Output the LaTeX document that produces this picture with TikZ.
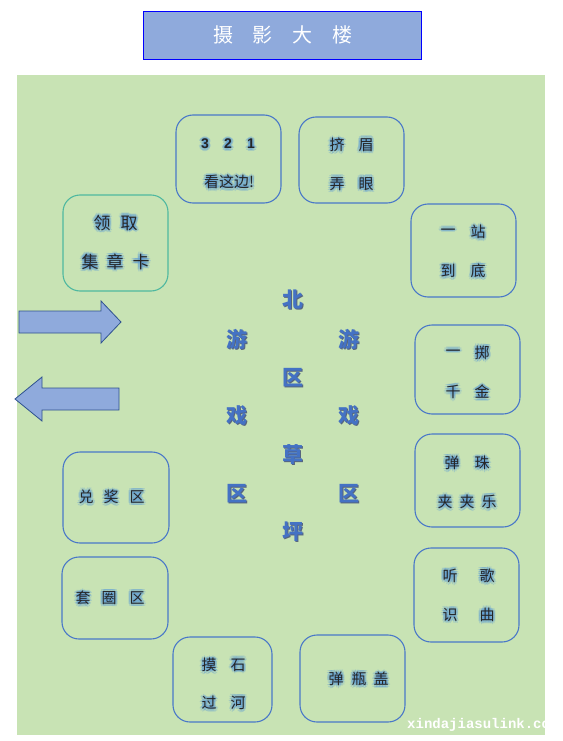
\documentclass[tikz,border=0pt]{standalone}
\usepackage{fontspec}
\newfontfamily\cjk{Noto Sans CJK SC}
\newfontfamily\wmfont{Liberation Mono}
\newfontfamily\digitfont{Liberation Sans}
\definecolor{bggreen}{HTML}{C8E3B4}
\definecolor{titlefill}{HTML}{8FAADC}
\definecolor{boxline}{HTML}{4A78C8}
\definecolor{glowblue}{HTML}{5A9AD8}
\definecolor{centerblue}{HTML}{4472C4}
\definecolor{shadowc}{HTML}{56657F}
\definecolor{arrowline}{HTML}{2F528F}
\definecolor{tealline}{HTML}{4FB8A0}
\tikzset{
  areabox/.style={draw=boxline, line width=1.1pt, rounded corners=17pt, inner sep=0pt},
  glowc/.style={text=glowblue, opacity=0.3, font=\cjk\fontsize{15}{15}\selectfont, inner sep=0pt},
  mainc/.style={text=black!85, font=\cjk\fontsize{15}{15}\selectfont, inner sep=0pt},
  cshadow/.style={text=shadowc, font=\cjk\bfseries\fontsize{21}{21}\selectfont, inner sep=0pt},
  cmain/.style={text=centerblue, font=\cjk\bfseries\fontsize{21}{21}\selectfont, inner sep=0pt},
  bigarrow/.style={fill=titlefill, draw=arrowline, line width=0.8pt, line join=miter},
}
\newcommand\gch[4][]{%
  \foreach \dx/\dy in {-2.4/0,2.4/0,0/-2.4,0/2.4,-1.7/-1.7,1.7/1.7,-1.7/1.7,1.7/-1.7,-1.1/0,1.1/0,0/1.1,0/-1.1}{%
    \node[glowc,#1, xshift=\dx pt, yshift=\dy pt] at (#2,#3) {#4};}
  \node[mainc,#1] at (#2,#3) {#4};}
\newcommand\cch[3]{%
  \node[cshadow, xshift=0.9pt, yshift=-0.9pt] at (#1,#2) {#3};
  \node[cmain] at (#1,#2) {#3};}
\begin{document}
\begin{tikzpicture}[x=1pt,y=-1pt]
\clip (0,0) rectangle (562,741);
\useasboundingbox (0,0) rectangle (562,741);
\fill[white] (0,0) rectangle (562,741);
% title
\node[draw=blue, fill=titlefill, line width=0.9pt, minimum width=278pt, minimum height=48pt, inner sep=0pt] (title) at (282,35) {};
\foreach \x/\c in {223/摄,262/影,302/大,342/楼}{
  \node[text=white, font=\cjk\fontsize{20}{20}\selectfont, inner sep=0pt] at (\x,35) {\c};}
% green area
\fill[bggreen] (17,75) rectangle (545,735);
% boxes
\node[areabox, minimum width=105pt, minimum height=88pt] (b321) at (228.5,159) {};
\node[areabox, minimum width=105pt, minimum height=86pt] (bjm) at (351.5,160) {};
\node[areabox, draw=tealline, minimum width=105pt, minimum height=96pt] (blq) at (115.5,243) {};
\node[areabox, minimum width=105pt, minimum height=93pt] (byz) at (463.5,250.5) {};
\node[areabox, minimum width=105pt, minimum height=89pt] (byzh) at (467.5,369.5) {};
\node[areabox, minimum width=105pt, minimum height=93pt] (bdz) at (467.5,480.5) {};
\node[areabox, minimum width=105pt, minimum height=94pt] (btg) at (466.5,595) {};
\node[areabox, minimum width=106pt, minimum height=91pt] (bdj) at (116,497.5) {};
\node[areabox, minimum width=106pt, minimum height=82pt] (btq) at (115,598) {};
\node[areabox, minimum width=99pt, minimum height=85pt] (bms) at (222.5,679.5) {};
\node[areabox, minimum width=105pt, minimum height=87pt] (bpg) at (352.5,678.5) {};
% box texts
\gch[font=\digitfont\bfseries\fontsize{14}{14}\selectfont]{205}{144}{3}
\gch[font=\digitfont\bfseries\fontsize{14}{14}\selectfont]{228}{144}{2}
\gch[font=\digitfont\bfseries\fontsize{14}{14}\selectfont]{251}{144}{1}
\gch{229}{182}{看这边!}
\gch{337}{145}{挤}\gch{366}{145}{眉}
\gch{337}{184}{弄}\gch{366}{184}{眼}
\gch[font=\cjk\fontsize{17}{17}\selectfont]{102}{223}{领}\gch[font=\cjk\fontsize{17}{17}\selectfont]{129}{223}{取}
\gch[font=\cjk\fontsize{17}{17}\selectfont]{90}{262}{集}\gch[font=\cjk\fontsize{17}{17}\selectfont]{115}{262}{章}\gch[font=\cjk\fontsize{17}{17}\selectfont]{141}{262}{卡}
\gch{448}{232}{一}\gch{478}{232}{站}
\gch{448}{271}{到}\gch{478}{271}{底}
\gch{453}{353}{一}\gch{482}{353}{掷}
\gch{453}{392}{千}\gch{482}{392}{金}
\gch{452}{463}{弹}\gch{482}{463}{珠}
\gch{445}{502}{夹}\gch{467}{502}{夹}\gch{489}{502}{乐}
\gch{450}{576}{听}\gch{487}{576}{歌}
\gch{450}{615}{识}\gch{487}{615}{曲}
\gch{86}{497}{兑}\gch{111}{497}{奖}\gch{137}{497}{区}
\gch{83}{598}{套}\gch{109}{598}{圈}\gch{137}{598}{区}
\gch{209}{665}{摸}\gch{238}{665}{石}
\gch{209}{703}{过}\gch{238}{703}{河}
\gch{336}{679}{弹}\gch{359}{679}{瓶}\gch{381}{679}{盖}
% center texts
\cch{293}{300}{北}\cch{293}{378}{区}\cch{293}{455}{草}\cch{293}{532}{坪}
\cch{237}{339}{游}\cch{237}{416}{戏}\cch{237}{494}{区}
\cch{349}{339}{游}\cch{349}{416}{戏}\cch{349}{494}{区}
% arrows
\draw[bigarrow] (19,311) -- (101,311) -- (101,301) -- (121,322) -- (101,343) -- (101,333) -- (19,333) -- cycle;
\draw[bigarrow] (119,388) -- (42,388) -- (42,377) -- (15,399) -- (42,421) -- (42,410) -- (119,410) -- cycle;
% watermark
\node[anchor=west, text=white, font=\wmfont\bfseries\fontsize{14}{14}\selectfont, inner sep=0pt] (wm) at (407,725) {xindajiasulink.com};
\end{tikzpicture}
\end{document}
